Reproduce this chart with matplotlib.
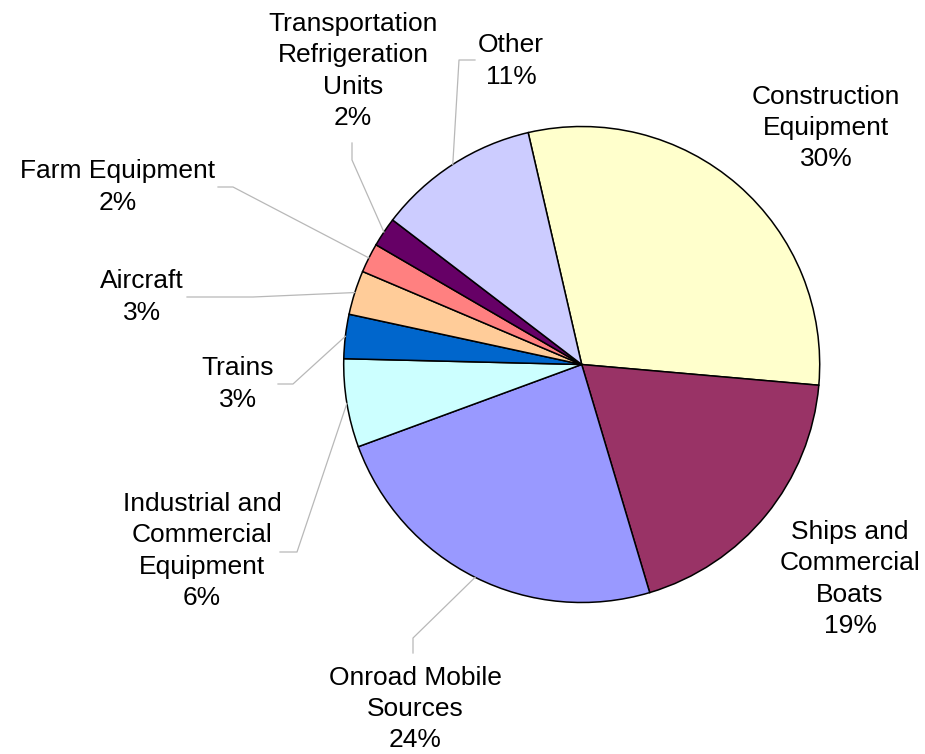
import numpy as np
import matplotlib.pyplot as plt

# emission shares by source category (percent)
categories = ['Construction\nEquipment', 'Ships and\nCommercial\nBoats', 'Onroad Mobile\nSources',
              'Industrial and\nCommercial\nEquipment', 'Trains', 'Aircraft', 'Farm Equipment',
              'Transportation\nRefrigeration\nUnits', 'Other']
shares = [30, 19, 24, 6, 3, 3, 2, 2, 11]
colors = ['#FFFFCC', '#993366', '#9999FF', '#CCFFFF', '#0066CC',
          '#FFCC99', '#FF8080', '#660066', '#CCCCFF']

W, H = 925, 754
cx, cy, radius = 581.7, 364.5, 238

# label centres and leader line points, in pixels from the top-left corner
label_pos = [(826, 128), (850, 579), (415, 709), (202, 551), (238, 384),
             (142, 297), (118, 187), (353, 71), (511, 61)]
leader_pts = [None, None,
              [(413, 638), (413, 653)],
              [(297, 552), (280, 552)],
              [(293, 384), (278, 384)],
              [(253, 297), (187, 297)],
              [(233, 187), (218, 187)],
              [(352, 160), (352, 143)],
              [(459, 60), (475, 60)]]

plt.rcParams['font.family'] = ['Liberation Sans', 'DejaVu Sans']

fig = plt.figure(figsize=(W / 100, H / 100), dpi=100)
ax = fig.add_axes([0, 0, 1, 1])

wedges, _ = ax.pie(shares, colors=colors, startangle=103, counterclock=False,
                   center=(cx, H - cy), radius=radius,
                   wedgeprops=dict(edgecolor='black', linewidth=1.1))
ax.set_xlim(0, W)
ax.set_ylim(0, H)
ax.set_aspect('equal')
ax.axis('off')

for wedge, name, share, pos, pts in zip(wedges, categories, shares, label_pos, leader_pts):
    ax.text(pos[0], H - pos[1], '%s\n%d%%' % (name, share), ha='center', va='center',
            multialignment='center', fontsize=19, linespacing=1.38, color='black')
    if pts is None:
        continue
    mid = np.deg2rad((wedge.theta1 + wedge.theta2) / 2)
    xs = [cx + radius * np.cos(mid)] + [p[0] for p in pts]
    ys = [H - cy + radius * np.sin(mid)] + [H - p[1] for p in pts]
    ax.plot(xs, ys, color='#b8b8b8', linewidth=0.9)

plt.savefig('out.png', dpi=100)
